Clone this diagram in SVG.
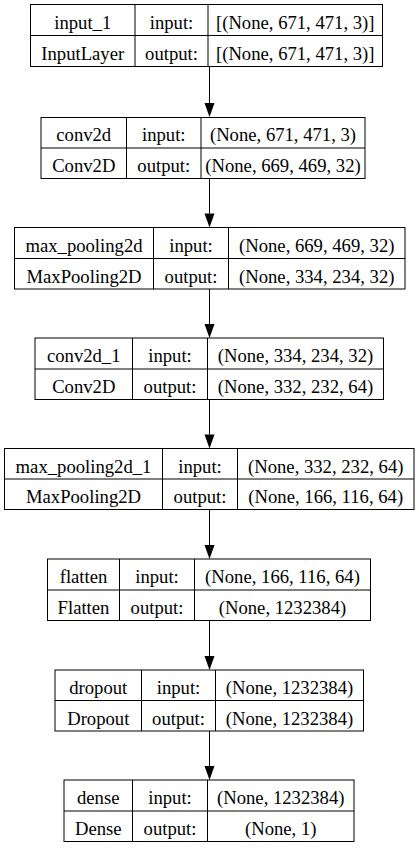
<svg xmlns="http://www.w3.org/2000/svg" width="419" height="848" viewBox="0 0 419 848">
<style>
.b{fill:#fff;stroke:#000;stroke-width:1}
.l{stroke:#000;stroke-width:1;fill:none}
.t{font-family:'Liberation Serif','DejaVu Serif',serif;font-size:18.67px;fill:#000;text-anchor:middle}
</style>
<rect width="419" height="848" fill="#fff"/>
<g id="connectors">
<line class="l" x1="209.5" y1="66" x2="209.5" y2="103"/><path d="M204.5,103 L214.5,103 L209.5,117 Z"/>
<line class="l" x1="209.5" y1="178.5" x2="209.5" y2="213.5"/><path d="M204.5,213.5 L214.5,213.5 L209.5,227.5 Z"/>
<line class="l" x1="209.5" y1="289" x2="209.5" y2="324"/><path d="M204.5,324 L214.5,324 L209.5,338 Z"/>
<line class="l" x1="209.5" y1="399.5" x2="209.5" y2="434.5"/><path d="M204.5,434.5 L214.5,434.5 L209.5,448.5 Z"/>
<line class="l" x1="209.5" y1="509.5" x2="209.5" y2="545"/><path d="M204.5,545 L214.5,545 L209.5,559 Z"/>
<line class="l" x1="209.5" y1="620.5" x2="209.5" y2="656"/><path d="M204.5,656 L214.5,656 L209.5,670 Z"/>
<line class="l" x1="209.5" y1="731" x2="209.5" y2="766"/><path d="M204.5,766 L214.5,766 L209.5,780 Z"/>
</g>
<g id="input_1" class="t">
<rect class="b" x="30.5" y="4.5" width="352" height="62"/>
<line class="l" x1="30.5" y1="35.5" x2="382.5" y2="35.5"/>
<line class="l" x1="135" y1="4.5" x2="135" y2="66.5"/>
<line class="l" x1="208" y1="4.5" x2="208" y2="66.5"/>
<text x="82.75" y="28.5">input_1</text><text x="171.5" y="28.5">input:</text><text x="295.25" y="28.5">[(None, 671, 471, 3)]</text>
<text x="82.75" y="59.5">InputLayer</text><text x="171.5" y="59.5">output:</text><text x="295.25" y="59.5">[(None, 671, 471, 3)]</text>
</g>
<g id="conv2d" class="t">
<rect class="b" x="41" y="117.5" width="324" height="61"/>
<line class="l" x1="41" y1="148" x2="365" y2="148"/>
<line class="l" x1="126.5" y1="117.5" x2="126.5" y2="178.5"/>
<line class="l" x1="201" y1="117.5" x2="201" y2="178.5"/>
<text x="83.75" y="141">conv2d</text><text x="163.75" y="141">input:</text><text x="283" y="141">(None, 671, 471, 3)</text>
<text x="83.75" y="172">Conv2D</text><text x="163.75" y="172">output:</text><text x="283" y="172">(None, 669, 469, 32)</text>
</g>
<g id="max_pooling2d" class="t">
<rect class="b" x="14.5" y="227.5" width="390.5" height="61.5"/>
<line class="l" x1="14.5" y1="258.5" x2="405" y2="258.5"/>
<line class="l" x1="153.5" y1="227.5" x2="153.5" y2="289"/>
<line class="l" x1="228.5" y1="227.5" x2="228.5" y2="289"/>
<text x="84" y="251.5">max_pooling2d</text><text x="191" y="251.5">input:</text><text x="316.75" y="251.5">(None, 669, 469, 32)</text>
<text x="84" y="282.5">MaxPooling2D</text><text x="191" y="282.5">output:</text><text x="316.75" y="282.5">(None, 334, 234, 32)</text>
</g>
<g id="conv2d_1" class="t">
<rect class="b" x="35" y="338" width="348.5" height="61.5"/>
<line class="l" x1="35" y1="369" x2="383.5" y2="369"/>
<line class="l" x1="132.5" y1="338" x2="132.5" y2="399.5"/>
<line class="l" x1="207.5" y1="338" x2="207.5" y2="399.5"/>
<text x="83.75" y="362">conv2d_1</text><text x="170" y="362">input:</text><text x="295.5" y="362">(None, 334, 234, 32)</text>
<text x="83.75" y="393">Conv2D</text><text x="170" y="393">output:</text><text x="295.5" y="393">(None, 332, 232, 64)</text>
</g>
<g id="max_pooling2d_1" class="t">
<rect class="b" x="4.5" y="448.5" width="409.5" height="61"/>
<line class="l" x1="4.5" y1="479" x2="414" y2="479"/>
<line class="l" x1="162.5" y1="448.5" x2="162.5" y2="509.5"/>
<line class="l" x1="237.5" y1="448.5" x2="237.5" y2="509.5"/>
<text x="83.5" y="472.5">max_pooling2d_1</text><text x="200" y="472.5">input:</text><text x="325.75" y="472.5">(None, 332, 232, 64)</text>
<text x="83.5" y="503">MaxPooling2D</text><text x="200" y="503">output:</text><text x="325.75" y="503">(None, 166, 116, 64)</text>
</g>
<g id="flatten" class="t">
<rect class="b" x="47.5" y="559" width="323" height="61.5"/>
<line class="l" x1="47.5" y1="590" x2="370.5" y2="590"/>
<line class="l" x1="119.5" y1="559" x2="119.5" y2="620.5"/>
<line class="l" x1="194.5" y1="559" x2="194.5" y2="620.5"/>
<text x="83.5" y="583">flatten</text><text x="157" y="583">input:</text><text x="282.5" y="583">(None, 166, 116, 64)</text>
<text x="83.5" y="614">Flatten</text><text x="157" y="614">output:</text><text x="282.5" y="614">(None, 1232384)</text>
</g>
<g id="dropout" class="t">
<rect class="b" x="55" y="670" width="308.5" height="61"/>
<line class="l" x1="55" y1="700.5" x2="363.5" y2="700.5"/>
<line class="l" x1="141.5" y1="670" x2="141.5" y2="731"/>
<line class="l" x1="215.5" y1="670" x2="215.5" y2="731"/>
<text x="98.25" y="694">dropout</text><text x="178.5" y="694">input:</text><text x="289.5" y="694">(None, 1232384)</text>
<text x="98.25" y="724.5">Dropout</text><text x="178.5" y="724.5">output:</text><text x="289.5" y="724.5">(None, 1232384)</text>
</g>
<g id="dense" class="t">
<rect class="b" x="64" y="780" width="290" height="61.5"/>
<line class="l" x1="64" y1="811" x2="354" y2="811"/>
<line class="l" x1="132.5" y1="780" x2="132.5" y2="841.5"/>
<line class="l" x1="207.5" y1="780" x2="207.5" y2="841.5"/>
<text x="98.25" y="804">dense</text><text x="170" y="804">input:</text><text x="280.75" y="804">(None, 1232384)</text>
<text x="98.25" y="835">Dense</text><text x="170" y="835">output:</text><text x="280.75" y="835">(None, 1)</text>
</g>
</svg>
